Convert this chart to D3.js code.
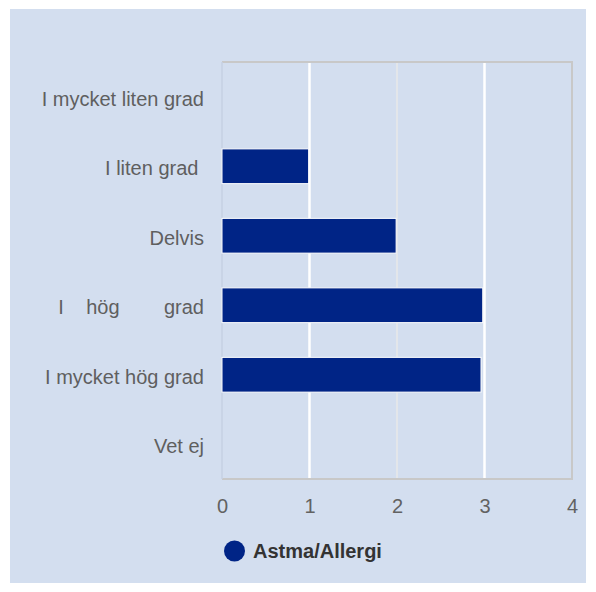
<!DOCTYPE html>
<html>
<head>
<meta charset="utf-8">
<script src="https://cdn.jsdelivr.net/npm/d3@7"></script>
<style>
  html, body { margin: 0; padding: 0; background: #ffffff; }
  svg { display: block; }
  text { font-family: "Liberation Sans", Arial, sans-serif; }
</style>
</head>
<body>
<svg id="chart" width="596" height="592"></svg>
<script>
// ---- data ----
const categories = ["I mycket liten grad", "I liten grad ", "Delvis", "I    hög        grad", "I mycket hög grad", "Vet ej"];
const values = [0, 0.99, 1.99, 2.98, 2.96, 0];
const seriesName = "Astma/Allergi";
const xTicks = [0, 1, 2, 3, 4];

// ---- layout ----
const plot = { left: 222, right: 572, top: 62, bottom: 479 };

const svg = d3.select("#chart");

// background panel
svg.append("rect")
  .attr("x", 10).attr("y", 9).attr("width", 576).attr("height", 574)
  .attr("fill", "#d3deef");

const x = d3.scaleLinear().domain([0, 4]).range([plot.left, plot.right]);
const y = d3.scaleBand().domain(categories).range([plot.top, plot.bottom])
  .paddingInner(0.5).paddingOuter(0.25);

// gridlines
const gridColors = { 1: "#ffffff", 2: "#e3e6ea", 3: "#ffffff" };
svg.append("g").selectAll("line")
  .data(xTicks.filter(t => t > 0 && t < 4))
  .join("line")
  .attr("x1", d => x(d)).attr("x2", d => x(d))
  .attr("y1", plot.top).attr("y2", plot.bottom)
  .attr("stroke", d => gridColors[d])
  .attr("stroke-width", d => d === 2 ? 2 : 2.5);

// frame
svg.append("path")
  .attr("d", `M${plot.left},${plot.top}H${plot.right}V${plot.bottom}H${plot.left}`)
  .attr("fill", "none").attr("stroke", "#c8c8c8").attr("stroke-width", 2);
svg.append("line")
  .attr("x1", plot.left).attr("x2", plot.left)
  .attr("y1", plot.top).attr("y2", plot.bottom)
  .attr("stroke", "#c6d1e3").attr("stroke-width", 1.5);

// bars
svg.append("g").selectAll("rect")
  .data(categories.map((c, i) => ({ c, v: values[i] })).filter(d => d.v > 0))
  .join("rect")
  .attr("x", x(0))
  .attr("y", d => y(d.c))
  .attr("width", d => x(d.v) - x(0))
  .attr("height", y.bandwidth())
  .attr("fill", "#002486")
  .attr("stroke", "#ffffff")
  .attr("stroke-width", 1);

// y axis labels
const yAxis = d3.axisLeft(y).tickSize(0).tickPadding(18);
const gy = svg.append("g").attr("transform", `translate(${plot.left},0)`).call(yAxis);
gy.select(".domain").remove();
gy.selectAll("text")
  .attr("font-size", 20)
  .attr("fill", "#5f5f5f")
  .attr("dy", "0.45em")
  .style("white-space", "pre");

// x axis labels
const xAxis = d3.axisBottom(x).tickValues(xTicks).tickFormat(d3.format("d")).tickSize(0).tickPadding(20);
const gx = svg.append("g").attr("transform", `translate(0,${plot.bottom})`).call(xAxis);
gx.select(".domain").remove();
gx.selectAll("text")
  .attr("font-size", 20)
  .attr("fill", "#626262");

// legend
const lg = svg.append("g").attr("transform", "translate(234.5,551)");
lg.append("circle").attr("r", 10.5).attr("fill", "#002486");
lg.append("text")
  .attr("x", 18.5).attr("y", 0).attr("dy", "0.36em")
  .attr("font-size", 20).attr("font-weight", "bold")
  .attr("fill", "#333333")
  .text(seriesName);
</script>
</body>
</html>
